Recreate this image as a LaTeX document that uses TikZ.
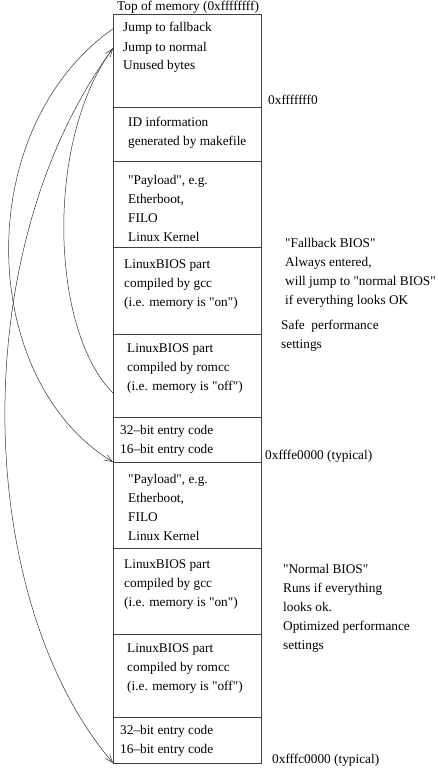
\documentclass[tikz,border=0pt]{standalone}
\usepackage{fontspec}
\setmainfont{Liberation Serif}[Ligatures=TeXOff]
\usetikzlibrary{arrows.meta}

\begin{document}
\begin{tikzpicture}[x=1pt, y=-1pt,
    cell/.style={draw=black!75, line width=0.7pt, minimum width=148pt, anchor=north west, inner sep=0pt, outer sep=0pt},
    lbl/.style={anchor=base west, align=left, inner sep=0pt, font=\fontsize{13.3}{19}\selectfont},
    note/.style={lbl, anchor=north west},
    arr/.style={draw=black!80, line width=0.5pt, -{Straight Barb[length=8pt,width=6pt]}}]
    \useasboundingbox (0,0) rectangle (438,768);

    % memory blocks, top to bottom
    \node[cell, minimum height=93pt] (jumps) at (113,14) {};
    \node[cell, minimum height=54pt] (idinfo) at (113,107) {};
    \node[cell, minimum height=86pt] (payloadA) at (113,161) {};
    \node[cell, minimum height=87pt] (gccA) at (113,247) {};
    \node[cell, minimum height=83pt] (romccA) at (113,334) {};
    \node[cell, minimum height=45pt] (entryA) at (113,417) {};
    \node[cell, minimum height=86pt] (payloadB) at (113,462) {};
    \node[cell, minimum height=86pt] (gccB) at (113,548) {};
    \node[cell, minimum height=83pt] (romccB) at (113,634) {};
    \node[cell, minimum height=46pt] (entryB) at (113,717) {};

    \node[lbl] (topmem) at (117,11) {Top of memory (0xffffffff)};
    \node[lbl] (jfall) at (123,32) {Jump to fallback};
    \node[lbl] (jnorm) at (123,51.5) {Jump to normal};
    \node[lbl] (unused) at (123,70) {Unused bytes};
    \node[lbl] (addrtop) at (268,104) {0xfffffff0};
    \node[note] (idtxt) at (128,116.8) {ID information\\generated by makefile};
    \node[note] (payAtxt) at (128,174.8) {"Payload", e.g.\\Etherboot,\\FILO\\Linux Kernel};
    \node[note] (gccAtxt) at (124,259.8) {LinuxBIOS part\\compiled by gcc\\(i.e. memory is "on")};
    \node[note] (romccAtxt) at (127,343.8) {LinuxBIOS part\\compiled by romcc\\(i.e. memory is "off")};
    \node[note] (entryAtxt) at (120,424.8) {32–bit entry code\\16–bit entry code};
    \node[lbl] (addrA) at (265,459) {0xfffe0000 (typical)};
    \node[note] (payBtxt) at (128,473.8) {"Payload", e.g.\\Etherboot,\\FILO\\Linux Kernel};
    \node[note] (gccBtxt) at (124,559.8) {LinuxBIOS part\\compiled by gcc\\(i.e. memory is "on")};
    \node[note] (romccBtxt) at (127,643.8) {LinuxBIOS part\\compiled by romcc\\(i.e. memory is "off")};
    \node[note] (entryBtxt) at (120,724.8) {32–bit entry code\\16–bit entry code};
    \node[lbl] (addrB) at (272,763) {0xfffc0000 (typical)};

    % notes on the right
    \node[note] (fallnote) at (285,237.8) {"Fallback BIOS"\\Always entered,\\will jump to "normal BIOS"\\if everything looks OK};
    \node[note] (safenote) at (281,319.8) {Safe\ \ performance\\settings};
    \node[note] (normnote) at (283,563.8) {"Normal BIOS"\\Runs if everything\\looks ok.\\Optimized performance\\settings};

    \coordinate (fbjump) at (113,393);

    \draw[arr] (jumps.west |- jfall) .. controls (-30,130) and (-22,380) .. (entryA.south west);
    \draw[arr] (jumps.west |- jnorm) .. controls (-36,250) and (-26,600) .. (entryB.south west);
    \draw[arr] (fbjump) .. controls (50,330) and (45,140) .. (jumps.west |- jnorm);
\end{tikzpicture}
\end{document}
